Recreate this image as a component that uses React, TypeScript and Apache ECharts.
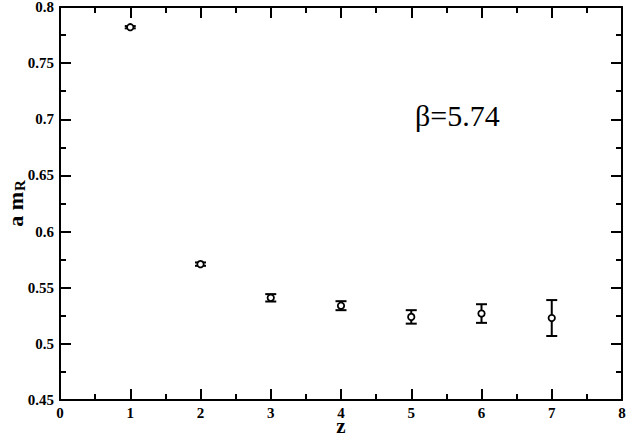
import React, { useEffect, useRef } from "react";
import * as echarts from "echarts";

const zValues = [1, 2, 3, 4, 5, 6, 7];
const mR = [0.782, 0.571, 0.541, 0.534, 0.524, 0.527, 0.523];
const mRErr = [0.001, 0.0015, 0.0033, 0.004, 0.006, 0.0083, 0.016];
const xTicks = [0, 1, 2, 3, 4, 5, 6, 7, 8];
const yTicks = [0.45, 0.5, 0.55, 0.6, 0.65, 0.7, 0.75, 0.8];
const betaLabel = "β=5.74";

const FONT = "Liberation Serif";

export default function App() {
  const ref = useRef<HTMLDivElement>(null);
  useEffect(() => {
    if (!ref.current) return;
    const chart = echarts.init(ref.current, undefined, { renderer: "svg" });
    const data = zValues.map((z, i) => [z, mR[i], mR[i] - mRErr[i], mR[i] + mRErr[i]]);
    const axisCommon = {
      axisLine: { show: true, onZero: false, lineStyle: { color: "#000", width: 2 } },
      axisTick: { show: true, inside: true, length: 11, lineStyle: { color: "#000", width: 2 } },
      minorTick: { show: true, splitNumber: 2, length: 6, lineStyle: { color: "#000", width: 2 } },
      splitLine: { show: false },
    };
    const labelStyle = { color: "#000", fontFamily: FONT, fontWeight: "bold" as const, fontSize: 15, lineHeight: 13 };
    chart.setOption({
      animation: false,
      backgroundColor: "#fff",
      grid: { left: 60, right: 5, top: 7, bottom: 35, containLabel: false, outerBoundsMode: "none" },
      xAxis: [
        {
          type: "value",
          min: xTicks[0],
          max: xTicks[xTicks.length - 1],
          interval: 1,
          position: "bottom",
          ...axisCommon,
          axisLabel: { ...labelStyle, margin: 6 },
          name: "z",
          nameLocation: "middle",
          nameGap: 20,
          nameMoveOverlap: false,
          nameTextStyle: { color: "#000", fontFamily: FONT, fontWeight: "bold", fontSize: 21, lineHeight: 12 },
        },
        {
          type: "value",
          min: xTicks[0],
          max: xTicks[xTicks.length - 1],
          interval: 1,
          position: "top",
          ...axisCommon,
          axisLabel: { show: false },
        },
      ],
      yAxis: [
        {
          type: "value",
          min: yTicks[0],
          max: yTicks[yTicks.length - 1],
          interval: 0.05,
          position: "left",
          ...axisCommon,
          axisLabel: {
            ...labelStyle,
            margin: 6,
            formatter: (v: number) => String(parseFloat(v.toFixed(2))),
          },
          name: "{a|a m}{s|R}",
          nameLocation: "middle",
          nameGap: 33,
          nameRotate: 90,
          nameMoveOverlap: false,
          nameTextStyle: {
            rich: {
              a: { color: "#000", fontFamily: FONT, fontWeight: "bold", fontSize: 22 },
              s: { color: "#000", fontFamily: FONT, fontWeight: "bold", fontSize: 15, verticalAlign: "bottom", padding: [9, 0, 0, 1] },
            },
          },
        },
        {
          type: "value",
          min: yTicks[0],
          max: yTicks[yTicks.length - 1],
          interval: 0.05,
          position: "right",
          ...axisCommon,
          axisLabel: { show: false },
        },
      ],
      series: [
        {
          type: "custom",
          xAxisIndex: 0,
          yAxisIndex: 0,
          data,
          renderItem: (params: any, api: any) => {
            const x = api.value(0);
            const c = api.coord([x, api.value(1)]);
            const lo = api.coord([x, api.value(2)]);
            const hi = api.coord([x, api.value(3)]);
            const cap = 5.5;
            const ls = { stroke: "#000", lineWidth: 2 };
            return {
              type: "group",
              children: [
                { type: "line", shape: { x1: lo[0], y1: lo[1], x2: hi[0], y2: hi[1] }, style: ls },
                { type: "line", shape: { x1: lo[0] - cap, y1: lo[1], x2: lo[0] + cap, y2: lo[1] }, style: ls },
                { type: "line", shape: { x1: hi[0] - cap, y1: hi[1], x2: hi[0] + cap, y2: hi[1] }, style: ls },
                { type: "circle", shape: { cx: c[0], cy: c[1], r: 3.2 }, style: { fill: "#fff", stroke: "#000", lineWidth: 1.8 } },
              ],
            };
          },
        },
      ],
      graphic: [
        {
          type: "text",
          left: 415,
          top: 100,
          style: { text: betaLabel, fontFamily: FONT, fontSize: 30, fill: "#000" },
        },
      ],
    });
    return () => chart.dispose();
  }, []);
  return <div ref={ref} style={{ position: "fixed", left: 0, top: 0, width: 627, height: 435 }} />;
}
